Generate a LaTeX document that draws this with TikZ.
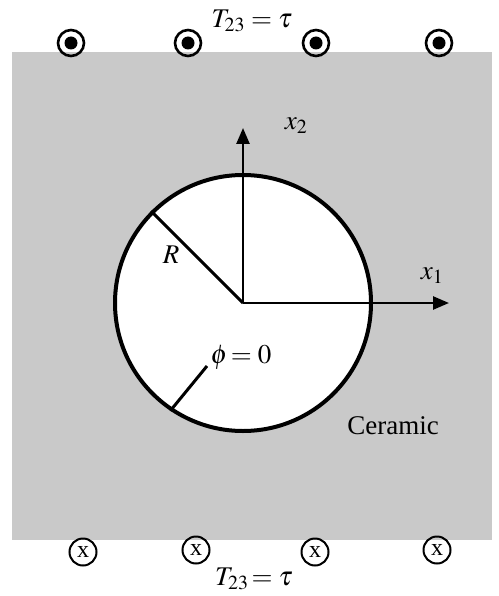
\documentclass[tikz,border=0pt]{standalone}
\usepackage{mathptmx}
\usepackage{fontspec}
\setmainfont{Liberation Serif}
\usetikzlibrary{arrows.meta}
\begin{document}
\begin{tikzpicture}[x=1pt,y=-1pt,
  font=\fontsize{27}{30}\selectfont,
  ceramic/.style={fill=black!21},
  hole/.style={circle, draw, line width=4pt, fill=white, minimum size=256pt, inner sep=0pt},
  axis/.style={line width=2.5pt, -{Triangle[length=16pt,width=13pt]}},
  radline/.style={line width=3pt},
  outsym/.style={circle, draw, line width=2.6pt, minimum size=26pt, inner sep=0pt,
    path picture={\fill (path picture bounding box.center) circle (6.5pt);}},
  insym/.style={circle, draw, line width=2pt, minimum size=27pt, inner sep=0pt,
    font=\fontsize{24}{24}\selectfont},
  lbl/.style={inner sep=1pt}
]
\useasboundingbox (0,0) rectangle (498,596);
\fill[ceramic] (12,52) rectangle (492,540);
\node[hole] (hole) at (243,303) {};
\coordinate (O) at (243,303);
\coordinate (x1tip) at (449,303);
\coordinate (x2tip) at (243,128);
\draw[axis] (O) -- (x1tip);
\draw[axis] (O) -- (x2tip);
\draw[radline] (O) -- (hole.135);
\coordinate (phiin) at (207,366);
\draw[radline] (phiin) -- (hole.236);
\node[lbl] (x1lab) at (432,276) {$x_1$};
\node[lbl] (x2lab) at (296,126) {$x_2$};
\node[lbl] (Rlab) at (171,255) {$R$};
\node[lbl] (philab) at (241,357) {$\phi\!= 0$};
\node[lbl] (cer) at (393,426) {Ceramic};
\node[lbl] (toplab) at (252,21) {$T_{23} = \tau$};
\node[lbl] (botlab) at (254,579) {$T_{23}\!= \tau$};
\node[outsym] (t1) at (71,43) {};
\node[outsym] (t2) at (188,43) {};
\node[outsym] (t3) at (316,43) {};
\node[outsym] (t4) at (439,43) {};
\node[insym] (b1) at (83,552) {x};
\node[insym] (b2) at (196,550) {x};
\node[insym] (b3) at (315,552) {x};
\node[insym] (b4) at (437,550) {x};
\end{tikzpicture}
\end{document}
